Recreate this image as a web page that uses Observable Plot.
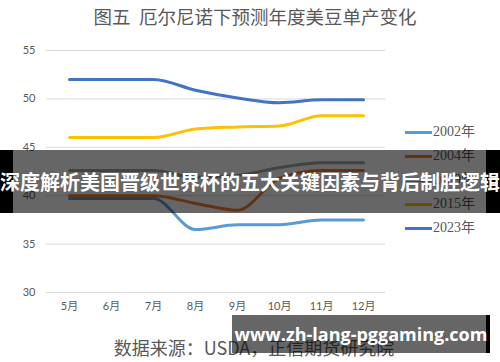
<!DOCTYPE html>
<html>
<head>
<meta charset="utf-8">
<script src="https://cdn.jsdelivr.net/npm/d3@7"></script>
<script src="https://cdn.jsdelivr.net/npm/@observablehq/plot@0.6"></script>
<style>
  html, body { margin: 0; padding: 0; background: #fff; }
  #wrap { position: relative; width: 500px; height: 362px; overflow: hidden; background: #fff; }
  #title { position: absolute; left: 0; top: 4px; width: 510px; text-align: center;
           font-family: "Noto Sans CJK SC", sans-serif; font-size: 18.5px; color: #595959; line-height: 24px; white-space: pre; }
  #chart { position: absolute; left: 0; top: 34px; }
  #caption { position: absolute; left: 0; top: 335px; width: 508px; text-align: center;
             font-family: "Noto Sans CJK SC", sans-serif; font-size: 18px; color: #595959; line-height: 24px; }
  #legend { position: absolute; left: 405px; top: 120px; }
  .li { position: absolute; left: 0; height: 20px; width: 90px; }
  .li .sw { position: absolute; left: 0; top: 9px; width: 27px; height: 3px; }
  .li .lt { position: absolute; left: 28px; top: 0; font-family: "Liberation Serif", "Noto Sans CJK SC", serif;
            font-size: 14px; line-height: 20px; color: #595959; white-space: nowrap; }
  #banner { position: absolute; left: 0; top: 150px; width: 500px; height: 63px; }
  #banner .bl { position: absolute; left: 0; top: 0; width: 13px; height: 63px; background: #000; }
  #banner .br { position: absolute; left: 486px; top: 0; width: 14px; height: 63px; background: #000; }
  #banner .bc { position: absolute; left: 13px; top: 0; width: 473px; height: 63px; background: rgba(0,0,0,0.6); }
  #banner .bt { position: absolute; left: -10px; top: 0; width: 520px; height: 63px; line-height: 63px; text-align: center;
                font-family: "Noto Sans CJK SC", sans-serif; font-weight: bold; font-size: 20px; color: #fff; white-space: nowrap; }
  #wm { position: absolute; left: 232px; top: 315px; width: 254px; height: 38px; background: rgba(0,0,0,0.6); }
  #wmb { position: absolute; left: 486px; top: 315px; width: 4px; height: 38px; background: #000; }
  #wmt { position: absolute; left: 232px; top: 315px; width: 258px; height: 38px; line-height: 38px; text-align: center;
         font-family: "Open Sans", "DejaVu Sans", sans-serif; font-weight: bold; font-size: 18px; color: #fff; white-space: nowrap; }
</style>
</head>
<body>
<div id="wrap">
  <div id="title"></div>
  <div id="chart"></div>
  <div id="legend"></div>
  <div id="caption"></div>
  <div id="banner"><div class="bl"></div><div class="bc"></div><div class="br"></div><div class="bt"></div></div>
  <div id="wm"></div><div id="wmb"></div><div id="wmt"></div>
</div>
<script>
const titleText = "图五  厄尔尼诺下预测年度美豆单产变化";
const captionText = "数据来源：USDA，正信期货研究院";
const bannerText = "深度解析美国晋级世界杯的五大关键因素与背后制胜逻辑";
const watermarkText = "www.zh-lang-pggaming.com";

const months = ["5月", "6月", "7月", "8月", "9月", "10月", "11月", "12月"];
const seriesNames = ["2002年", "2004年", "2009年", "2015年", "2023年"];
const seriesColors = ["#5B9BD5", "#ED7D31", "#A5A5A5", "#FFC000", "#4472C4"];
const s2002 = [39.7, 39.7, 39.7, 36.5, 37.0, 37.0, 37.5, 37.5];
const s2004 = [40.0, 40.0, 40.0, 39.2, 38.5, 41.8, 42.6, 42.6];
const s2009 = [42.6, 42.6, 42.6, 41.9, 42.1, 42.9, 43.4, 43.4];
const s2015 = [46.0, 46.0, 46.0, 46.9, 47.1, 47.2, 48.25, 48.25];
const s2023 = [52.0, 52.0, 52.0, 50.9, 50.1, 49.6, 49.9, 49.9];
const yTicks = [30, 35, 40, 45, 50, 55];

const seriesValues = [s2002, s2004, s2009, s2015, s2023];
const data = [];
seriesNames.forEach((name, i) => {
  months.forEach((m, j) => data.push({ series: name, month: m, value: seriesValues[i][j] }));
});

document.getElementById("title").textContent = titleText;
document.getElementById("caption").textContent = captionText;
document.querySelector("#banner .bt").textContent = bannerText;
document.getElementById("wmt").textContent = watermarkText;

const tickFont = "Lato, 'Noto Sans CJK SC', sans-serif";
const chart = Plot.plot({
  width: 500,
  height: 288,
  marginTop: 16,
  marginBottom: 30,
  marginLeft: 46,
  marginRight: 115,
  style: { background: "transparent", fontSize: "11px", fontFamily: tickFont, color: "#595959" },
  x: { type: "point", domain: months, padding: 0.5, label: null },
  y: { domain: [30, 55], label: null },
  color: { domain: seriesNames, range: seriesColors },
  marks: [
    Plot.ruleY(yTicks, { stroke: "#d9d9d9", strokeWidth: 1 }),
    Plot.axisY({ ticks: yTicks, tickSize: 0, tickPadding: 11, label: null, fill: "#595959" }),
    Plot.axisX({ tickSize: 0, tickPadding: 10, label: null, fill: "#595959" }),
    Plot.line(data, { x: "month", y: "value", z: "series", stroke: "series", strokeWidth: 3,
                      curve: "monotone-x", strokeLinecap: "round", strokeLinejoin: "round" })
  ]
});
document.getElementById("chart").appendChild(chart);

const legend = document.getElementById("legend");
const legendTops = [2, 26, 50, 74, 98];
seriesNames.forEach((name, i) => {
  const d = document.createElement("div");
  d.className = "li";
  d.style.top = legendTops[i] + "px";
  const sw = document.createElement("div");
  sw.className = "sw";
  sw.style.background = seriesColors[i];
  const lt = document.createElement("div");
  lt.className = "lt";
  lt.textContent = name;
  d.appendChild(sw); d.appendChild(lt);
  legend.appendChild(d);
});
</script>
</body>
</html>
